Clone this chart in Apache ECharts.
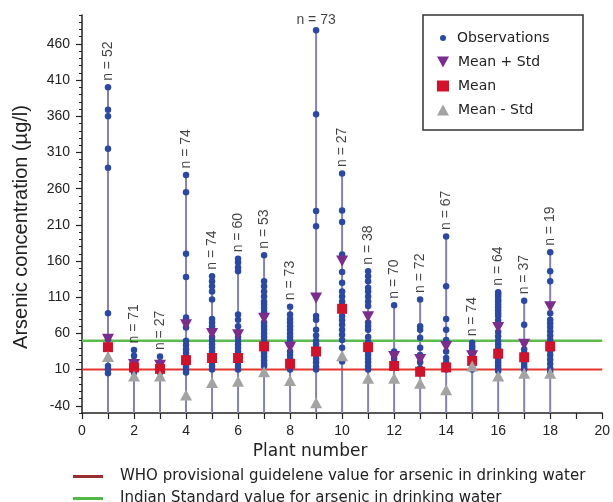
<!DOCTYPE html>
<html>
<head>
<meta charset="utf-8">
<script src="https://cdn.jsdelivr.net/npm/echarts@6/dist/echarts.min.js"></script>
<style>html,body{margin:0;padding:0;background:#fff;}#c{width:613px;height:502px;}</style>
</head>
<body>
<div id="c"></div>
<script>
// ---- data ----
const plants = [1,2,3,4,5,6,7,8,9,10,11,12,13,14,15,16,17,18];
const nCounts = [52,71,27,74,74,60,53,73,73,27,38,70,72,67,74,64,37,19];
const observations = [
  [400,369,360,315,289,88,52,15,10,5],
  [37,29,22,15,10,6],
  [28,20,15,10,6],
  [279,255,170,138,82,79,68,50,44,38,33,28,24,18,14,10,6],
  [139,132,125,118,107,80,75,70,65,55,50,45,40,35,30,25,20,15,10],
  [163,158,151,146,86,79,70,62,55,50,45,40,35,30,25,20,15,10],
  [168,132,125,118,111,104,100,95,90,84,75,70,65,60,55,50,47,38,33,28,23,18,15],
  [97,86,80,75,70,65,60,55,50,45,35,30,25,20,15,10],
  [479,363,229,208,84,79,65,57,50,45,40,35,30,25,20,14,10],
  [281,230,214,169,145,130,118,111,104,99,84,78,72,65,58,51,40,21],
  [146,139,132,123,118,111,104,98,75,70,65,55,48,35,30,25,20,15,10],
  [99,35,30,25,20,15],
  [107,70,65,54,40,30,20,12,5],
  [194,125,80,65,51,35,26,20,15,10],
  [47,43,40,37,34,30,25,18,14,10],
  [117,114,111,107,104,100,96,92,88,84,78,72,62,56,50,45,40,35,28,24,20,16,12,8],
  [105,72,47,38,33,27,22,18,14,10],
  [172,146,132,88,79,74,69,63,57,51,44,36,30,24,18,12,7]
];
const meanPlusStd  = [52,17,16,72,60,58,81,41,109,160,83,28,24,42,29,68,45,97];
const meanVals     = [41,13,11,23,26,26,42,18,35,94,41,15,7,13,22,32,27,42];
const meanMinusStd = [28,1,1,-25,-8,-6,7,-5,-36,29,-2,-2,-9,-18,15,1,5,5];
const whoLimit = 10;
const indianLimit = 50;
const yMin = -50, yMax = 500;
const yTickLabels = [-40,10,60,110,160,210,260,310,360,410,460];
const yMinorTicks = [];
for (let v = yMin; v <= yMax; v += 10) yMinorTicks.push(v);
const xTickLabels = [0,2,4,6,8,10,12,14,16,18,20];
const xTicks = [0,1,2,3,4,5,6,7,8,9,10,11,12,13,14,15,16,17,18,19,20];

const WHO_NAME = 'WHO provisional guidelene value for arsenic in drinking water';
const IND_NAME = 'Indian Standard value for arsenic in drinking water';

// ---- build ----
const obsData = [];
plants.forEach((p, i) => observations[i].forEach(v => obsData.push([p, v])));
const stemData = plants.map((p, i) => [p, Math.max.apply(null, observations[i])]);
const labelData = plants.map((p, i) => {
  const d = { value: [p, stemData[i][1]] };
  if (p === 9) d.label = { rotate: 0, align: 'center', verticalAlign: 'bottom', distance: 3 };
  return d;
});

const numFont = 'Liberation Sans, Arial, sans-serif';
const txtFont = 'DejaVu Sans, Verdana, sans-serif';
const bottomLegend = (name, color, top) => ({
  selectedMode: false, left: 73, top: top, orient: 'vertical', padding: 0,
  itemWidth: 30, itemHeight: 3,
  textStyle: { fontFamily: txtFont, fontSize: 15, lineHeight: 15, color: '#222', padding: [0, 0, 0, 12] },
  data: [{ name: name, icon: 'rect', itemStyle: { color: color } }]
});

const chart = echarts.init(document.getElementById('c'), null, { renderer: 'canvas' });
chart.setOption({
  animation: false,
  backgroundColor: '#fff',
  grid: { left: 82, right: 10, top: 15, bottom: 89, containLabel: false },
  xAxis: {
    type: 'value', min: 0, max: 20, interval: 1,
    name: 'Plant number', nameLocation: 'middle', nameGap: 27,
    nameTextStyle: { fontFamily: txtFont, fontSize: 17, color: '#222', padding: [0, 64, 0, 0] },
    axisLine: { onZero: false, lineStyle: { color: '#222', width: 1.5 } },
    axisTick: { show: true, length: 6, customValues: xTicks, lineStyle: { color: '#222', width: 1.2 } },
    axisLabel: { customValues: xTickLabels, margin: 11, fontFamily: numFont, fontSize: 14, color: '#222' },
    splitLine: { show: false }
  },
  yAxis: [{
    type: 'value', min: yMin, max: yMax,
    name: 'Arsenic concentration (µg/l)', nameLocation: 'middle', nameGap: 51,
    nameTextStyle: { fontFamily: numFont, fontSize: 20, color: '#222', padding: [0, 26, 0, 0] },
    axisLine: { show: true, onZero: false, lineStyle: { color: '#222', width: 1.5 } },
    axisTick: { show: true, length: 6, customValues: yTickLabels, lineStyle: { color: '#222', width: 1.2 } },
    axisLabel: { customValues: yTickLabels, margin: 12, fontFamily: numFont, fontSize: 14, color: '#222' },
    splitLine: { show: false }
  }, {
    type: 'value', min: yMin, max: yMax, position: 'left',
    axisLine: { show: false, onZero: false },
    axisTick: { show: true, length: 3, customValues: yMinorTicks, lineStyle: { color: '#222', width: 1 } },
    axisLabel: { show: false },
    splitLine: { show: false }
  }],
  legend: [{
    selectedMode: false, left: 440, top: 31, orient: 'vertical', padding: 0,
    itemWidth: 6, itemHeight: 6,
    textStyle: { fontFamily: txtFont, fontSize: 14, lineHeight: 14, color: '#222', padding: [0, 0, 0, 6] },
    data: [{ name: 'Observations', icon: 'circle' }]
  }, {
    selectedMode: false, left: 437, top: 55, orient: 'vertical', padding: 0,
    itemWidth: 12, itemHeight: 11, itemGap: 10,
    textStyle: { fontFamily: txtFont, fontSize: 14, lineHeight: 14, color: '#222', padding: [0, 0, 0, 4] },
    data: [
      { name: 'Mean + Std', icon: 'path://M0,0 L10,0 L5,9 Z' },
      { name: 'Mean', icon: 'rect' },
      { name: 'Mean - Std', icon: 'triangle' }
    ]
  },
  bottomLegend(WHO_NAME, '#9a2f2f', 469),
  bottomLegend(IND_NAME, '#52b848', 491)
  ],
  graphic: [{
    type: 'rect', z: 0, silent: true,
    shape: { x: 423, y: 15, width: 160, height: 115 },
    style: { fill: '#fff', stroke: '#333', lineWidth: 1.5 }
  }],
  series: [
    {
      name: 'stems', type: 'custom', silent: true, z: 1,
      data: stemData,
      renderItem: function (params, api) {
        const top = api.coord([api.value(0), api.value(1)]);
        const bot = api.coord([api.value(0), yMin]);
        return { type: 'line', shape: { x1: top[0], y1: top[1], x2: bot[0], y2: bot[1] },
                 style: { stroke: '#8181bd', lineWidth: 2 } };
      }
    },
    {
      name: WHO_NAME, type: 'line', symbol: 'none', silent: true, z: 2,
      lineStyle: { color: '#e3352b', width: 2 }, itemStyle: { color: '#e3352b' },
      data: [[0, whoLimit], [20, whoLimit]]
    },
    {
      name: IND_NAME, type: 'line', symbol: 'none', silent: true, z: 2,
      lineStyle: { color: '#5cbd4c', width: 2.5 }, itemStyle: { color: '#5cbd4c' },
      data: [[0, indianLimit], [20, indianLimit]]
    },
    {
      name: 'Observations', type: 'scatter', symbol: 'circle', symbolSize: 6.5, z: 3,
      itemStyle: { color: '#2a48a8', opacity: 1 },
      data: obsData
    },
    {
      name: 'Mean + Std', type: 'scatter', symbol: 'triangle', symbolRotate: 180, symbolSize: [12, 11], z: 4,
      itemStyle: { color: '#7b2c8e', opacity: 1 },
      data: plants.map((p, i) => [p, meanPlusStd[i]])
    },
    {
      name: 'Mean', type: 'scatter', symbol: 'rect', symbolSize: 10, z: 5,
      itemStyle: { color: '#d4112b', opacity: 1 },
      data: plants.map((p, i) => [p, meanVals[i]])
    },
    {
      name: 'Mean - Std', type: 'scatter', symbol: 'triangle', symbolSize: [12, 11], z: 6,
      itemStyle: { color: '#a3a3a3', opacity: 1 },
      data: plants.map((p, i) => [p, meanMinusStd[i]])
    },
    {
      name: 'nLabels', type: 'scatter', symbol: 'circle', symbolSize: 1, silent: true, z: 7,
      itemStyle: { color: 'rgba(0,0,0,0)' },
      label: {
        show: true, position: 'top', distance: 6, rotate: 90, align: 'left', verticalAlign: 'middle',
        fontFamily: numFont, fontSize: 14, color: '#111',
        formatter: function (p) { return 'n = ' + nCounts[p.dataIndex]; }
      },
      data: labelData
    }
  ]
});
</script>
</body>
</html>
